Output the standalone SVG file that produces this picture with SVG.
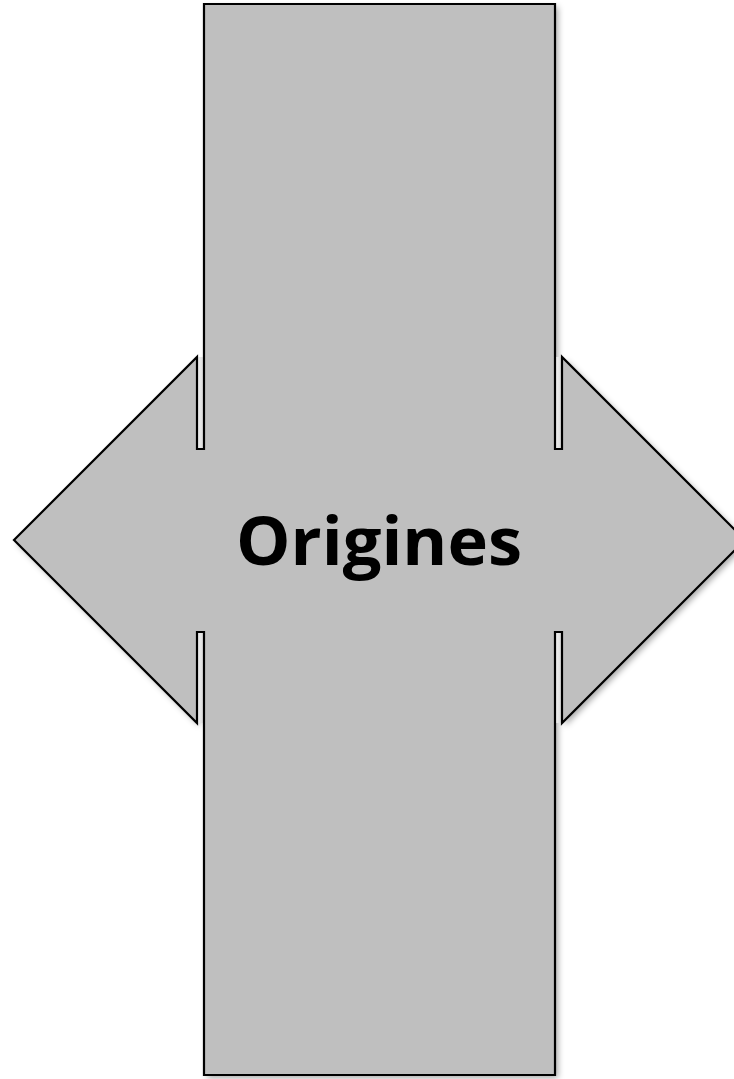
<svg xmlns="http://www.w3.org/2000/svg" width="734" height="1079" viewBox="0 0 734 1079">
<style>
.fill{fill:#bfbfbf;stroke:none}
.edge{fill:none;stroke:#000;stroke-width:2.2;stroke-linejoin:miter}
.label{font-family:"Open Sans","Liberation Sans",Arial,sans-serif;font-weight:bold;font-size:66px;fill:#000}
</style>
<defs>
<filter id="sh" x="-5%" y="-5%" width="110%" height="110%">
<feDropShadow dx="3" dy="3" stdDeviation="3" flood-color="#000" flood-opacity="0.35"/>
</filter>
<linearGradient id="strip" x1="0" y1="0" x2="1" y2="0">
<stop offset="0" stop-color="#f2f2f2"/>
<stop offset="1" stop-color="#d9d9d9"/>
</linearGradient>
</defs>
<rect width="734" height="1079" fill="#fff"/>
<g id="origines">
<g filter="url(#sh)">
<path class="fill" d="M204,4 H555 V449 H562 V357 L745,540 L562,723 V632 H555 V1075 H204 V632 H197 V723 L14,540 L197,357 V449 H204 Z"/>
</g>
<rect x="197" y="357" width="7" height="92" fill="url(#strip)"/>
<rect x="197" y="632" width="7" height="91" fill="url(#strip)"/>
<rect x="555" y="357" width="7" height="92" fill="url(#strip)"/>
<rect x="555" y="632" width="7" height="91" fill="url(#strip)"/>
<path class="edge" d="M204,449 V4 H555 V449 H562 V357 L745,540 L562,723 V632 H555 V1075 H204 V632 H197 V723 L14,540 L197,357 V449 Z"/>
<text class="label" x="379" y="565" text-anchor="middle" textLength="286" lengthAdjust="spacingAndGlyphs">Origines</text>
</g>
</svg>
